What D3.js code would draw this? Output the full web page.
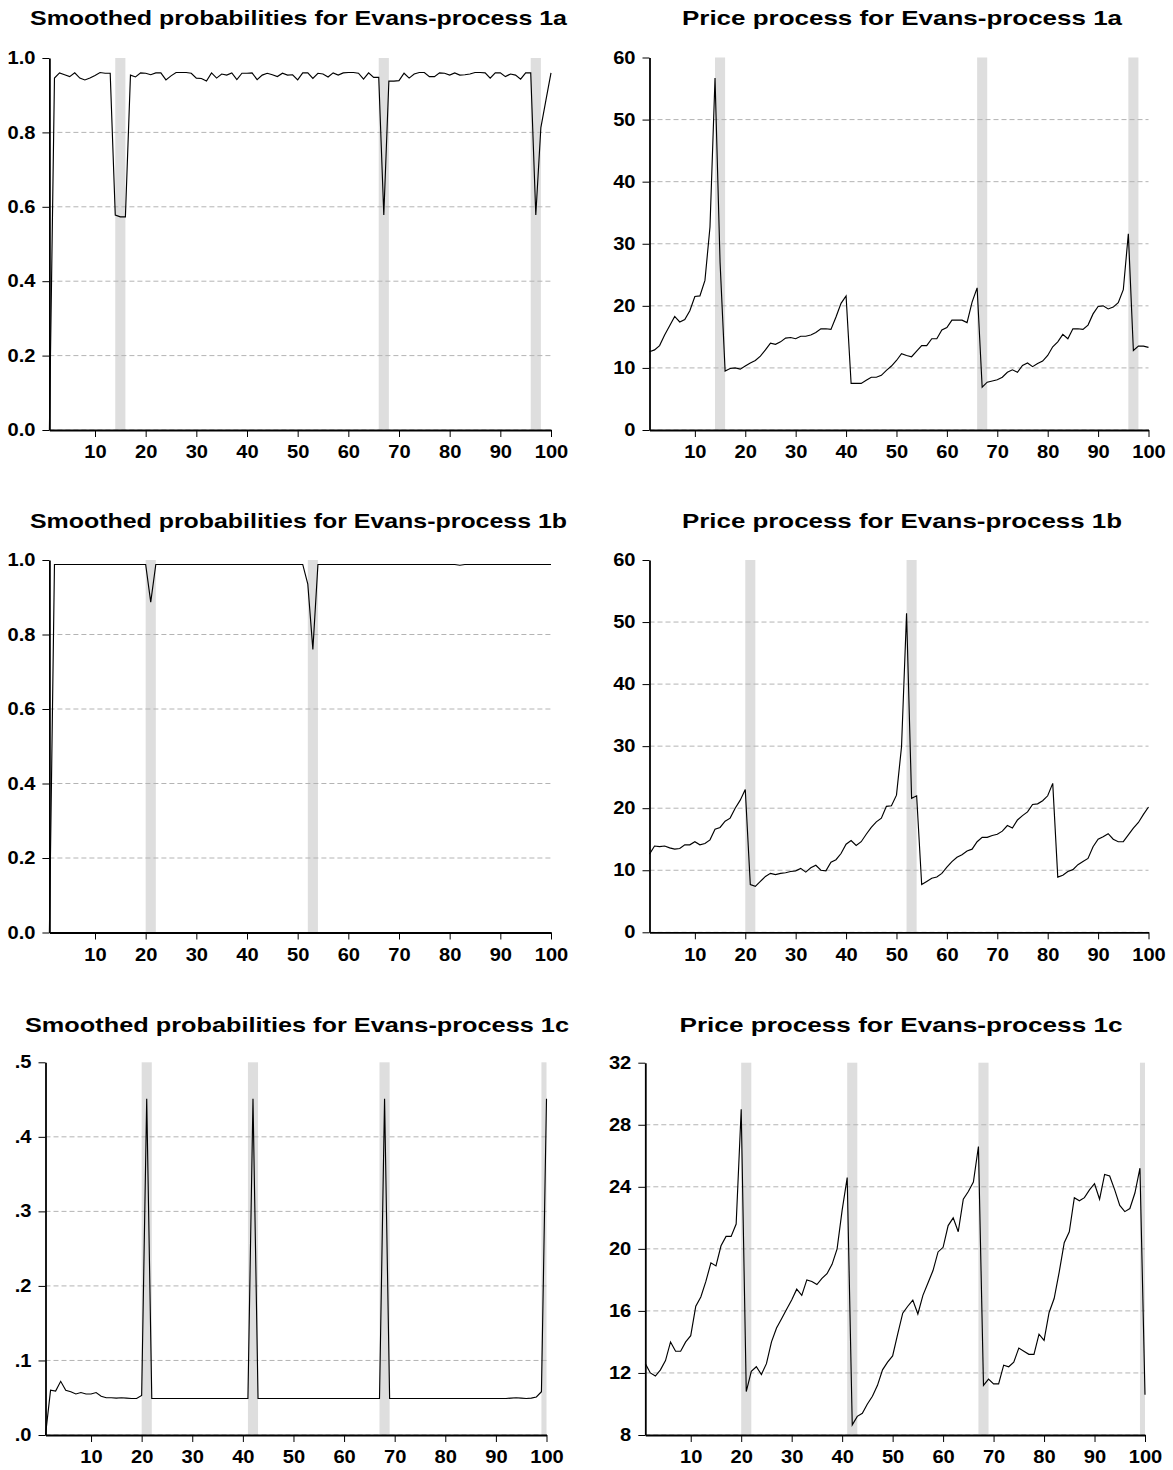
<!DOCTYPE html>
<html><head><meta charset="utf-8">
<script src="https://cdn.jsdelivr.net/npm/d3@7"></script>
<style>body{margin:0;background:#fff}svg{display:block}</style>
</head><body><div id="chart"></div>
<script>
// ---------- DATA ----------
const xTicks = [10,20,30,40,50,60,70,80,90,100];
const probTicks = [0,0.2,0.4,0.6,0.8,1.0];
const priceTicks = [0,10,20,30,40,50,60];
const prob1cTicks = [0,0.1,0.2,0.3,0.4,0.5];
const price1cTicks = [8,12,16,20,24,28,32];

const titles = [
  "Smoothed probabilities for Evans-process 1a",
  "Price process for Evans-process 1a",
  "Smoothed probabilities for Evans-process 1b",
  "Price process for Evans-process 1b",
  "Smoothed probabilities for Evans-process 1c",
  "Price process for Evans-process 1c"
];

const prob1a = [0,0.946,0.960,0.955,0.950,0.960,0.946,0.941,0.946,0.953,
 0.961,0.959,0.959,0.578,0.573,0.573,0.954,0.949,0.960,0.959,
 0.955,0.960,0.960,0.941,0.952,0.961,0.961,0.961,0.959,0.946,
 0.945,0.938,0.960,0.946,0.957,0.954,0.960,0.942,0.959,0.959,
 0.960,0.942,0.954,0.959,0.955,0.950,0.959,0.954,0.955,0.941,
 0.960,0.960,0.945,0.959,0.957,0.949,0.960,0.954,0.960,0.961,
 0.961,0.959,0.943,0.960,0.948,0.948,0.578,0.938,0.938,0.939,
 0.959,0.946,0.957,0.961,0.961,0.950,0.950,0.960,0.959,0.954,
 0.960,0.954,0.955,0.957,0.961,0.961,0.960,0.946,0.960,0.960,
 0.950,0.957,0.954,0.943,0.960,0.960,0.578,0.813,0.887,0.960];

const price1a = [12.6,12.9,13.6,15.3,16.8,18.3,17.4,17.8,19.2,21.5,
 21.6,24.1,32.7,56.7,27.0,9.5,9.9,10.0,9.8,10.3,
 10.8,11.2,11.9,12.9,14.0,13.8,14.2,14.8,14.9,14.7,
 15.1,15.1,15.3,15.7,16.3,16.3,16.2,18.2,20.4,21.6,
 7.5,7.5,7.5,8.0,8.5,8.5,8.8,9.6,10.3,11.2,
 12.3,12.0,11.8,12.7,13.6,13.6,14.7,14.7,16.1,16.5,
 17.7,17.7,17.7,17.3,20.6,22.9,6.9,7.7,7.9,8.1,
 8.5,9.3,9.7,9.3,10.4,10.8,10.2,10.7,11.1,12.0,
 13.4,14.2,15.4,14.7,16.3,16.3,16.2,16.9,18.7,19.9,
 20.0,19.5,19.8,20.5,22.6,31.6,12.8,13.5,13.5,13.3];

const prob1b = [0,0.988,0.988,0.988,0.988,0.988,0.988,0.988,0.988,0.988,
 0.988,0.988,0.988,0.988,0.988,0.988,0.988,0.988,0.988,0.988,
 0.887,0.988,0.988,0.988,0.988,0.988,0.988,0.988,0.988,0.988,
 0.988,0.988,0.988,0.988,0.988,0.988,0.988,0.988,0.988,0.988,
 0.988,0.988,0.988,0.988,0.988,0.988,0.988,0.988,0.988,0.988,
 0.988,0.935,0.760,0.988,0.988,0.988,0.988,0.988,0.988,0.988,
 0.988,0.988,0.988,0.988,0.988,0.988,0.988,0.988,0.988,0.988,
 0.988,0.988,0.988,0.988,0.988,0.988,0.988,0.988,0.988,0.988,
 0.988,0.986,0.988,0.988,0.988,0.988,0.988,0.988,0.988,0.988,
 0.988,0.988,0.988,0.988,0.988,0.988,0.988,0.988,0.988,0.988];

const price1b = [12.6,13.9,13.8,13.9,13.6,13.4,13.5,14.1,14.1,14.6,
 14.1,14.3,14.9,16.6,16.9,17.9,18.4,20.0,21.3,23.0,
 7.7,7.4,8.2,9.0,9.5,9.3,9.5,9.6,9.8,9.9,
 10.3,9.7,10.4,10.8,10.0,9.9,11.3,11.7,12.7,14.2,
 14.8,14.0,14.6,15.8,16.9,17.8,18.4,20.3,20.4,22.1,
 29.9,51.4,21.6,22.0,7.7,8.2,8.7,8.9,9.5,10.5,
 11.4,12.1,12.5,13.1,13.4,14.6,15.3,15.3,15.6,15.8,
 16.3,17.2,16.8,18.1,18.8,19.4,20.6,20.7,21.2,22.0,
 24.0,8.9,9.2,9.8,10.1,10.9,11.4,11.9,13.8,15.0,
 15.4,15.9,15.0,14.6,14.6,15.7,16.8,17.7,19.0,20.2];

const prob1c = [0,0.060,0.059,0.072,0.060,0.058,0.055,0.057,0.055,0.055,
 0.057,0.052,0.050,0.050,0.0495,0.050,0.0495,0.049,0.049,0.053,
 0.451,0.049,0.049,0.049,0.049,0.049,0.049,0.049,0.049,0.049,
 0.049,0.049,0.049,0.049,0.049,0.049,0.049,0.049,0.049,0.049,
 0.049,0.451,0.049,0.049,0.049,0.049,0.049,0.049,0.049,0.049,
 0.049,0.049,0.049,0.049,0.049,0.049,0.049,0.049,0.049,0.049,
 0.049,0.049,0.049,0.049,0.049,0.049,0.049,0.451,0.049,0.049,
 0.049,0.049,0.049,0.049,0.049,0.049,0.049,0.049,0.049,0.049,
 0.049,0.049,0.049,0.049,0.049,0.049,0.049,0.049,0.049,0.049,
 0.049,0.049,0.0495,0.050,0.0495,0.049,0.0495,0.051,0.058,0.451];

const price1c = [12.6,12.0,11.8,12.2,12.8,14.0,13.4,13.4,14.0,14.4,
 16.3,16.9,17.9,19.1,18.9,20.2,20.8,20.8,21.6,29.0,
 10.8,12.1,12.4,11.9,12.6,14.0,14.9,15.5,16.1,16.7,
 17.4,17.0,18.0,17.9,17.7,18.1,18.4,19.0,20.0,22.5,
 24.6,8.65,9.2,9.4,10.0,10.5,11.2,12.2,12.7,13.1,
 14.5,15.85,16.3,16.7,15.8,17.0,17.8,18.6,19.8,20.1,
 21.5,22.0,21.1,23.2,23.7,24.3,26.6,11.2,11.6,11.3,
 11.3,12.5,12.4,12.7,13.6,13.4,13.2,13.2,14.5,14.1,
 15.9,16.8,18.5,20.4,21.1,23.3,23.1,23.3,23.8,24.2,
 23.2,24.8,24.7,23.8,22.8,22.4,22.6,23.6,25.2,10.6];

const bands1a = [[14,16],[66,68],[96,98]];
const bands1b = [[20,22],[52,54]];
const bands1c = [[20,22],[41,43],[67,69],[99,100]];

// ---------- LAYOUT ----------
const W = 1173, H = 1470;
const SX = 1.15;          // horizontal stretch of the lettering
const FONT = "'Liberation Sans', Arial, Helvetica, sans-serif";
const fmt1 = d3.format(".1f");
const fmtNoLead = d => fmt1(d).replace(/^0/, "");
const fmtInt = d3.format("d");

const panels = [
  {title:titles[0], data:prob1a, bands:bands1a, domain:[0,1], ticks:probTicks, fmt:fmt1,
   box:{x0:49.4,x1:551,y0:58,y1:430}, tx:298.5, ty:25, tlen:537},
  {title:titles[1], data:price1a, bands:bands1a, domain:[0,60], ticks:priceTicks, fmt:fmtInt,
   box:{x0:649.5,x1:1148.5,y0:57.5,y1:430}, tx:902, ty:25, tlen:440},
  {title:titles[2], data:prob1b, bands:bands1b, domain:[0,1], ticks:probTicks, fmt:fmt1,
   box:{x0:49.4,x1:551,y0:560,y1:932.5}, tx:298.5, ty:528, tlen:537},
  {title:titles[3], data:price1b, bands:bands1b, domain:[0,60], ticks:priceTicks, fmt:fmtInt,
   box:{x0:649.5,x1:1148.5,y0:560,y1:932.3}, tx:902, ty:528, tlen:440},
  {title:titles[4], data:prob1c, bands:bands1c, domain:[0,0.5], ticks:prob1cTicks, fmt:fmtNoLead,
   box:{x0:45.5,x1:546.5,y0:1062.3,y1:1435}, tx:297, ty:1032, tlen:544},
  {title:titles[5], data:price1c, bands:bands1c, domain:[8,32], ticks:price1cTicks, fmt:fmtInt,
   box:{x0:645.3,x1:1145,y0:1062.7,y1:1435}, tx:901, ty:1032, tlen:443}
];

const svg = d3.select("#chart").append("svg")
  .attr("width", W).attr("height", H)
  .style("background", "#fff");

panels.forEach(p => {
  const b = p.box;
  const x = d3.scaleLinear().domain([1,100]).range([b.x0, b.x1]);
  const y = d3.scaleLinear().domain(p.domain).range([b.y1, b.y0]);
  const g = svg.append("g");

  // shaded bands
  g.selectAll("rect.band").data(p.bands).join("rect")
    .attr("class","band")
    .attr("x", d => x(d[0])).attr("width", d => x(d[1]) - x(d[0]))
    .attr("y", y(p.domain[1])).attr("height", y(p.domain[0]) - y(p.domain[1]))
    .attr("fill", "#dedede");

  // dashed grid
  g.selectAll("line.grid").data(p.ticks.filter(t => t !== p.domain[1])).join("line")
    .attr("class","grid")
    .attr("x1", b.x0).attr("x2", b.x1)
    .attr("y1", d => y(d)).attr("y2", d => y(d))
    .attr("stroke", "#b4b4b4").attr("stroke-width", 1)
    .attr("stroke-dasharray", "5,3");

  // series line
  const line = d3.line().x((d,i) => x(i+1)).y(d => y(d));
  g.append("path").datum(p.data)
    .attr("d", line).attr("fill","none")
    .attr("stroke","#000").attr("stroke-width",1.15)
    .attr("stroke-linejoin","miter");

  // y axis
  const ya = g.append("g").attr("transform", `translate(${b.x0},0)`)
    .call(d3.axisLeft(y).tickValues(p.ticks).tickFormat(p.fmt).tickSize(7).tickSizeOuter(0).tickPadding(7));
  // x axis
  const xa = g.append("g").attr("transform", `translate(0,${b.y1})`)
    .call(d3.axisBottom(x).tickValues(xTicks).tickFormat(fmtInt).tickSize(7).tickSizeOuter(0).tickPadding(9));

  [ya, xa].forEach(a => {
    a.select(".domain").attr("stroke","#000").attr("stroke-width",1.8);
    a.selectAll(".tick line").attr("stroke","#000").attr("stroke-width",1);
    a.selectAll(".tick text")
      .attr("fill","#000")
      .style("font-family", FONT).style("font-weight","bold").style("font-size","17.5px");
  });
  ya.selectAll(".tick text").attr("x", -14 / SX).attr("transform", `scale(${SX},1)`);
  xa.selectAll(".tick text").attr("transform", `scale(${SX},1)`)
    .attr("x", 0);

  // title
  svg.append("text")
    .attr("x", p.tx).attr("y", p.ty)
    .attr("text-anchor","middle")
    .attr("textLength", p.tlen).attr("lengthAdjust","spacingAndGlyphs")
    .style("font-family", FONT).style("font-weight","bold").style("font-size","21px")
    .attr("fill","#000")
    .text(p.title);
});
</script>
</body></html>
